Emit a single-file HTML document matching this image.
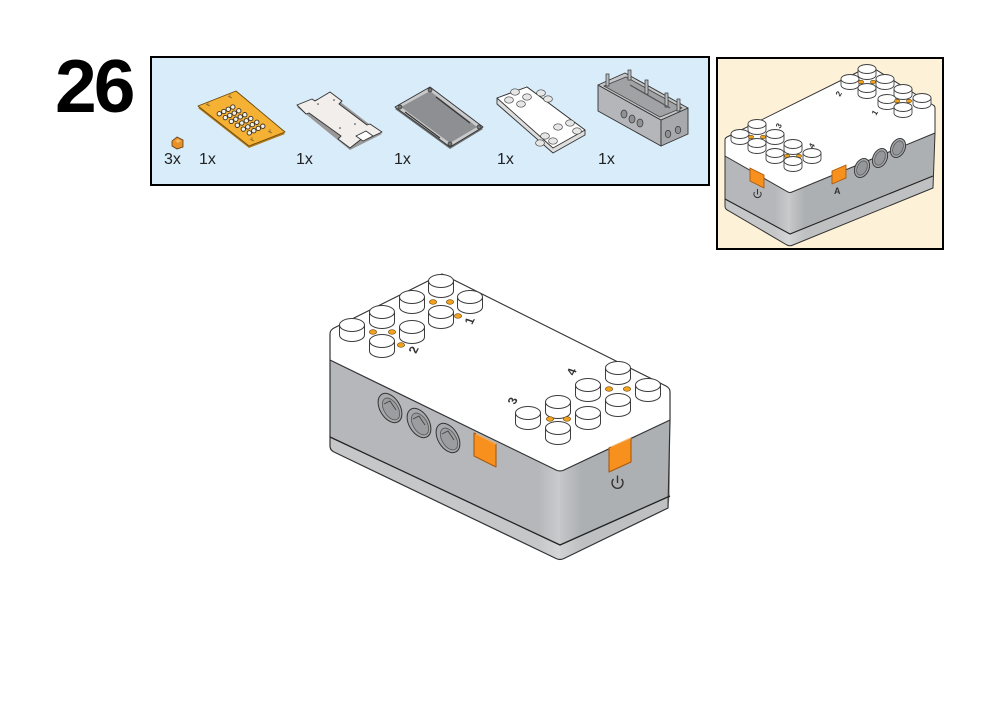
<!DOCTYPE html>
<html><head><meta charset="utf-8"><style>
html,body{margin:0;padding:0;background:#fff;}
svg{display:block;}
</style></head><body>
<svg width="1001" height="708" viewBox="0 0 1001 708" xmlns="http://www.w3.org/2000/svg" font-family="'Liberation Sans', Arial, sans-serif">
<defs>
  <g id="s"><path d="M-12.5,0 v10 a12.5,6.5 0 0 0 25,0 v-10 z" fill="#fff" stroke="#3c3c3c" stroke-width="1"/><ellipse rx="12.5" ry="6.5" fill="#fff" stroke="#3c3c3c" stroke-width="1"/></g>
  <g id="t"><path d="M-9,0 v6 a9,4.5 0 0 0 18,0 v-6 z" fill="#fff" stroke="#444" stroke-width="0.9"/><ellipse rx="9" ry="4.5" fill="#fff" stroke="#444" stroke-width="0.9"/></g>
  <g id="d"><ellipse rx="3.6" ry="2.3" fill="#f4a21c" stroke="#6b4b12" stroke-width="0.7"/></g>
  <g id="e"><ellipse rx="2.6" ry="1.7" fill="#f4a21c" stroke="#6b4b12" stroke-width="0.6"/></g>
  <g id="ps"><ellipse rx="4.4" ry="3.2" fill="#e6e6e6" stroke="#444" stroke-width="0.7"/></g>
  <linearGradient id="hl" x1="0" x2="1" y1="0" y2="0">
    <stop offset="0" stop-color="#fff" stop-opacity="0"/>
    <stop offset="0.5" stop-color="#fff" stop-opacity="0.28"/>
    <stop offset="1" stop-color="#fff" stop-opacity="0"/>
  </linearGradient>
  <clipPath id="cm"><polygon points="330,360 560,472 670,420 670,508 560,560 330,450"/></clipPath>
  <clipPath id="ci"><polygon points="725,156 790,193 935,133 933,188 790,246 725,209"/></clipPath>
</defs>

<!-- Step number -->
<text x="55" y="112" font-size="75" font-weight="bold" letter-spacing="-3" fill="#000">26</text>

<!-- Parts panel -->
<rect x="151" y="57" width="558" height="128" fill="#d8ecfa" stroke="#000" stroke-width="2"/>

<!-- part 0: small orange piece -->
<polygon points="172,141 177,137 183,140 183,147 177,149 172,146" fill="#e8902a" stroke="#5a3a10" stroke-width="0.8"/>
<polygon points="175,141 178,139 181,141 178,143" fill="#f6b860"/>

<!-- part 1: orange plate -->
<polygon points="198,108 236,93 285,134 249,148" fill="#b57a18"/>
<polygon points="198,106 236,91 285,132 249,146" fill="#f5b133" stroke="#6b4a10" stroke-width="0.9" stroke-linejoin="round"/>
<g fill="#f4f1ea" stroke="#3a3020" stroke-width="0.9">
<circle cx="219.3" cy="113.8" r="2.2"/><circle cx="225.3" cy="117.6" r="2.2"/><circle cx="231.3" cy="121.4" r="2.2"/><circle cx="237.3" cy="125.3" r="2.2"/><circle cx="243.3" cy="129.1" r="2.2"/><circle cx="249.3" cy="132.9" r="2.2"/>
<circle cx="223.8" cy="111.5" r="2.2"/><circle cx="229.8" cy="115.4" r="2.2"/><circle cx="235.8" cy="119.2" r="2.2"/><circle cx="241.8" cy="123.0" r="2.2"/><circle cx="247.8" cy="126.9" r="2.2"/><circle cx="253.8" cy="130.7" r="2.2"/>
<circle cx="228.3" cy="109.3" r="2.2"/><circle cx="234.3" cy="113.1" r="2.2"/><circle cx="240.3" cy="116.9" r="2.2"/><circle cx="246.3" cy="120.8" r="2.2"/><circle cx="252.3" cy="124.6" r="2.2"/><circle cx="258.3" cy="128.4" r="2.2"/>
<circle cx="232.8" cy="107.0" r="2.2"/><circle cx="238.8" cy="110.8" r="2.2"/><circle cx="244.8" cy="114.7" r="2.2"/><circle cx="250.8" cy="118.5" r="2.2"/><circle cx="256.8" cy="122.3" r="2.2"/><circle cx="262.8" cy="126.2" r="2.2"/>
</g>
<g stroke="#8a6a30" stroke-width="0.7" fill="none">
<path d="M206,104 l4,2 M208,102 l0,4"/><path d="M228,96 l4,2 M230,94 l0,4"/><path d="M268,131 l4,2 M270,129 l0,4"/><path d="M250,139 l4,2 M252,137 l0,4"/>
</g>

<!-- part 2: white plate -->
<polygon points="297,107 330,94 382,134 350,150" fill="#9a9898"/>
<polygon points="297,105 312,99 315,101 330,92 342,101 339,104 367,125 370,124 382,132 367,139 364,137 350,148 338,139 341,136 309,113 306,114" fill="#f1eeec" stroke="#333" stroke-width="0.9" stroke-linejoin="round"/>
<polygon points="356,136 366,131 373,136 363,141" fill="#fff" stroke="#333" stroke-width="0.8"/>
<g fill="#333"><circle cx="318" cy="104" r="0.8"/><circle cx="334" cy="100" r="0.8"/><circle cx="355" cy="124" r="0.8"/><circle cx="340" cy="128" r="0.8"/></g>

<!-- part 3: gray plate -->
<polygon points="395,109 430,89 483,129 450,149" fill="#6e7072"/>
<polygon points="395,107 430,87 483,127 450,147" fill="#c9cacb" stroke="#333" stroke-width="0.9" stroke-linejoin="round"/>
<polygon points="401,107 430,91 477,127 450,143" fill="#8d8f92"/>
<line x1="436" y1="97" x2="470" y2="123" stroke="#333" stroke-width="1.2"/>
<line x1="405" y1="112" x2="440" y2="138" stroke="#333" stroke-width="1.2"/>
<g fill="#777" stroke="#333" stroke-width="0.7"><circle cx="400" cy="107" r="2"/><circle cx="430" cy="90" r="2"/><circle cx="479" cy="127" r="2"/><circle cx="450" cy="144" r="2"/></g>

<!-- part 4: white plate with studs -->
<polygon points="497,98 527,87 585,130 585,135 553,153 497,104" fill="#dedede" stroke="#333" stroke-width="0.9" stroke-linejoin="round"/>
<polygon points="497,98 527,87 585,130 553,148" fill="#fff" stroke="#333" stroke-width="0.9" stroke-linejoin="round"/>
<g>
<use href="#ps" x="515" y="92"/><use href="#ps" x="527" y="97"/><use href="#ps" x="509" y="100"/><use href="#ps" x="521" y="104"/>
<use href="#ps" x="541" y="93"/><use href="#ps" x="548" y="99"/>
<use href="#ps" x="558" y="127"/><use href="#ps" x="570" y="123"/><use href="#ps" x="577" y="131"/>
<use href="#ps" x="545" y="136"/><use href="#ps" x="553" y="141"/><use href="#ps" x="540" y="143"/>
</g>

<!-- part 5: gray case -->
<polygon points="598,85 661,120 661,146 598,111" fill="#b4b6b9" stroke="#333" stroke-width="0.9" stroke-linejoin="round"/>
<polygon points="661,120 688,108 688,134 661,146" fill="#a7a9ac" stroke="#333" stroke-width="0.9" stroke-linejoin="round"/>
<polygon points="598,85 625,73 688,108 661,120" fill="#c4c6c8" stroke="#333" stroke-width="0.9" stroke-linejoin="round"/>
<polygon points="604,86 626,77 682,108 660,117" fill="#a0a2a5" stroke="#444" stroke-width="0.8"/>
<g fill="#b9bbbd" stroke="#333" stroke-width="0.7">
<rect x="606" y="74" width="3" height="12"/><rect x="628" y="70" width="3" height="10"/><rect x="645" y="80" width="3" height="14"/><rect x="665" y="93" width="3" height="14"/><rect x="677" y="99" width="3" height="12"/>
</g>
<line x1="630" y1="85" x2="670" y2="108" stroke="#555" stroke-width="1.2"/>
<g fill="#8f9194" stroke="#333" stroke-width="0.7">
<ellipse cx="624" cy="114" rx="3" ry="4"/><ellipse cx="632" cy="119" rx="3" ry="4"/><ellipse cx="640" cy="123" rx="3" ry="4"/>
<ellipse cx="668" cy="134" rx="2.8" ry="3.6"/><ellipse cx="678" cy="130" rx="2.8" ry="3.6"/>
</g>

<!-- quantities -->
<g font-size="16" fill="#222">
<text x="164" y="164">3x</text>
<text x="199" y="164">1x</text>
<text x="296" y="164">1x</text>
<text x="394" y="164">1x</text>
<text x="497" y="164">1x</text>
<text x="598" y="164">1x</text>
</g>

<!-- Inset -->
<rect x="717" y="58" width="226" height="191" fill="#fdf2d7" stroke="#000" stroke-width="2"/>
<!-- inset body -->
<polygon points="725,156 790,193 790,234 725,199" fill="#b5b7ba"/>
<polygon points="790,193 935,133 933,176 790,234" fill="#adb0b3"/>
<polygon points="725,199 790,234 790,246 725,209" fill="#c6c7c9"/>
<polygon points="790,234 933,176 933,188 790,246" fill="#bfc0c2"/>
<rect x="775" y="180" width="30" height="70" fill="url(#hl)" clip-path="url(#ci)"/>
<path d="M725,156 L725,206 Q725,209 728,210.5 L787,245 Q790,246.5 793,245 L933,188 L935,133" fill="none" stroke="#333" stroke-width="1"/>
<path d="M725,199 L790,234 L933,176" fill="none" stroke="#222" stroke-width="1.1"/>
<!-- inset lid -->
<path d="M725,140 Q725,138 727,137 L870,66 L933,105 Q935,106 935,108 L935,133 L792,192 Q790,193 788,192 L725,156 Z" fill="#fff" stroke="#333" stroke-width="1"/>
<!-- inset holes -->
<g>
<ellipse cx="862" cy="168" rx="7" ry="10" transform="rotate(25 862 168)" fill="#a2a4a7" stroke="#333" stroke-width="0.9"/>
<ellipse cx="862" cy="168" rx="4.8" ry="7.5" transform="rotate(25 862 168)" fill="#95979a" stroke="#555" stroke-width="0.7"/>
<ellipse cx="880" cy="158" rx="7" ry="10" transform="rotate(25 880 158)" fill="#a2a4a7" stroke="#333" stroke-width="0.9"/>
<ellipse cx="880" cy="158" rx="4.8" ry="7.5" transform="rotate(25 880 158)" fill="#95979a" stroke="#555" stroke-width="0.7"/>
<ellipse cx="898" cy="148" rx="7" ry="10" transform="rotate(25 898 148)" fill="#a2a4a7" stroke="#333" stroke-width="0.9"/>
<ellipse cx="898" cy="148" rx="4.8" ry="7.5" transform="rotate(25 898 148)" fill="#95979a" stroke="#555" stroke-width="0.7"/>
</g>
<!-- inset buttons -->
<polygon points="750,168 764,175 764,188 750,181" fill="#f7901c" stroke="#a85a10" stroke-width="0.9" stroke-linejoin="round"/>
<polygon points="832,171 846,165 846,178 832,184" fill="#f7901c" stroke="#a85a10" stroke-width="0.9" stroke-linejoin="round"/>
<path d="M754.5,192 A3.6,3.6 0 1 0 760.5,192" fill="none" stroke="#333" stroke-width="1.1"/>
<line x1="757.5" y1="189" x2="757.5" y2="194.5" stroke="#333" stroke-width="1.1"/>
<text x="834" y="194" font-size="9" font-weight="bold" fill="#333">A</text>
<!-- inset studs -->
<use href="#t" x="867" y="69"/><use href="#t" x="850" y="79"/><use href="#t" x="885" y="79"/><use href="#e" x="861" y="82"/><use href="#e" x="873" y="82"/><use href="#t" x="867" y="88"/>
<use href="#t" x="903" y="89"/><use href="#t" x="887" y="99"/><use href="#t" x="922" y="98"/><use href="#e" x="897" y="101"/><use href="#e" x="909" y="101"/><use href="#t" x="903" y="107"/>
<use href="#t" x="757" y="124"/><use href="#t" x="740" y="134"/><use href="#t" x="775" y="134"/><use href="#e" x="751" y="137"/><use href="#e" x="763" y="137"/><use href="#t" x="757" y="143"/>
<use href="#t" x="793" y="144"/><use href="#t" x="775" y="153"/><use href="#t" x="812" y="153"/><use href="#e" x="787" y="156"/><use href="#e" x="799" y="156"/><use href="#t" x="793" y="161"/>
<g font-size="8" font-weight="bold" fill="#333">
<text transform="translate(840,97) rotate(-60)">2</text>
<text transform="translate(876,116) rotate(-60)">1</text>
<text transform="translate(780,129) rotate(-60)">3</text>
<text transform="translate(813,149) rotate(-60)">4</text>
</g>

<!-- Main box body -->
<polygon points="330,360 560,472 560,545 330,437" fill="#b5b7ba"/>
<polygon points="560,472 670,420 670,496 560,545" fill="#adb0b3"/>
<polygon points="330,437 560,545 560,560 330,450" fill="#c6c7c9"/>
<polygon points="560,545 670,496 668,508 560,560" fill="#bfc0c2"/>
<rect x="538" y="460" width="44" height="110" fill="url(#hl)" clip-path="url(#cm)"/>
<path d="M330,360 L330,446 Q330,450 334,452 L556,558.5 Q560,560.5 564,558.5 L668,508 L670,420" fill="none" stroke="#333" stroke-width="1.2"/>
<path d="M330,437 L560,545 L670,496" fill="none" stroke="#222" stroke-width="1.3"/>

<!-- Main lid -->
<path d="M330,334 Q330,330 334,328 L442,274 L666,386 Q670,388 670,392 L670,420 L564,470 Q560,472 556,470 L330,360 Z" fill="#fff" stroke="#333" stroke-width="1.2" stroke-linejoin="round"/>

<!-- holes -->
<g>
<ellipse cx="390" cy="408" rx="10" ry="16" transform="rotate(-31 390 408)" fill="#a7a9ac" stroke="#333" stroke-width="1"/>
<ellipse cx="391" cy="409" rx="7" ry="12" transform="rotate(-31 391 409)" fill="#9b9da0" stroke="#555" stroke-width="0.8"/>
<path d="M384,404 l6,-3 l6,9" fill="none" stroke="#444" stroke-width="0.9"/>
<ellipse cx="419" cy="423" rx="10" ry="16" transform="rotate(-31 419 423)" fill="#a7a9ac" stroke="#333" stroke-width="1"/>
<ellipse cx="420" cy="424" rx="7" ry="12" transform="rotate(-31 420 424)" fill="#9b9da0" stroke="#555" stroke-width="0.8"/>
<path d="M413,419 l6,-3 l6,9" fill="none" stroke="#444" stroke-width="0.9"/>
<ellipse cx="448" cy="438" rx="10" ry="16" transform="rotate(-31 448 438)" fill="#a7a9ac" stroke="#333" stroke-width="1"/>
<ellipse cx="449" cy="439" rx="7" ry="12" transform="rotate(-31 449 439)" fill="#9b9da0" stroke="#555" stroke-width="0.8"/>
<path d="M442,434 l6,-3 l6,9" fill="none" stroke="#444" stroke-width="0.9"/>
</g>

<!-- orange buttons -->
<polygon points="474,433 496,444 496,467 474,456" fill="#f7901c" stroke="#a85a10" stroke-width="1.1" stroke-linejoin="round"/>
<line x1="476" y1="434" x2="496" y2="444" stroke="#fbb560" stroke-width="1"/>
<polygon points="609,448 631,438 631,462 609,472" fill="#f7901c" stroke="#a85a10" stroke-width="1.1" stroke-linejoin="round"/>
<line x1="611" y1="447" x2="631" y2="438" stroke="#fbb560" stroke-width="1"/>
<!-- power symbol -->
<path d="M613.5,479 A5.5,5.5 0 1 0 621.5,479" fill="none" stroke="#333" stroke-width="1.4"/>
<line x1="617.5" y1="475.5" x2="617.5" y2="483" stroke="#333" stroke-width="1.4"/>

<!-- Main studs -->
<use href="#s" x="441" y="281"/><use href="#s" x="412" y="297"/><use href="#s" x="470" y="297"/>
<use href="#d" x="433" y="302"/><use href="#d" x="450" y="302"/><use href="#d" x="458" y="316"/>
<use href="#s" x="441" y="312"/>
<use href="#s" x="382" y="312"/><use href="#s" x="352" y="325"/><use href="#s" x="412" y="327"/>
<use href="#d" x="373" y="332"/><use href="#d" x="392" y="332"/><use href="#d" x="401" y="345"/>
<use href="#s" x="382" y="341"/>
<use href="#s" x="618" y="368"/><use href="#s" x="588" y="385"/><use href="#s" x="648" y="385"/>
<use href="#d" x="609" y="389"/><use href="#d" x="627" y="389"/>
<use href="#s" x="618" y="400"/>
<use href="#s" x="558" y="402"/><use href="#s" x="528" y="413"/><use href="#s" x="588" y="413"/>
<use href="#d" x="550" y="419"/><use href="#d" x="567" y="419"/>
<use href="#s" x="558" y="428"/>

<!-- main labels -->
<g font-size="12" font-weight="bold" fill="#333">
<text transform="translate(472,325) rotate(-62) skewX(10)">1</text>
<text transform="translate(416,354) rotate(-62) skewX(10)">2</text>
<text transform="translate(515,405) rotate(-62) skewX(10)">3</text>
<text transform="translate(574,376) rotate(-62) skewX(10)">4</text>
</g>
</svg>
</body></html>
